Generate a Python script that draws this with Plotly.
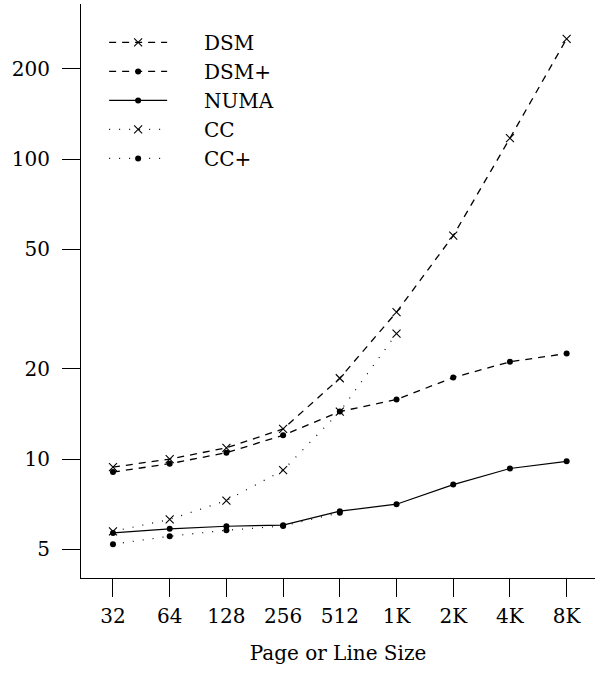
import plotly.graph_objects as go

sizes = ['32', '64', '128', '256', '512', '1K', '2K', '4K', '8K']
dsm = [9.4, 10.0, 10.9, 12.6, 18.6, 30.9, 55.6, 117.5, 252]
dsm_plus = [9.05, 9.65, 10.5, 12.0, 14.4, 15.8, 18.7, 21.1, 22.5]
numa = [5.67, 5.85, 5.97, 6.02, 6.70, 7.07, 8.22, 9.30, 9.83]
cc = [5.74, 6.29, 7.27, 9.18, 14.4, 26.2]
cc_plus = [5.2, 5.53, 5.79, 5.98, 6.62]
y_ticks = [5, 10, 20, 50, 100, 200]

FONT = "DejaVu Serif"
PAD = "\u00a0" * 5
fig = go.Figure()

def add(name, vals, dash, width, symbol, msize, mline):
    xs = list(range(len(vals)))
    fig.add_trace(go.Scatter(
        x=xs, y=vals, name=PAD + name, mode="lines+markers",
        line=dict(color="black", dash=dash, width=width),
        marker=dict(symbol=symbol, size=msize, color="black",
                    line=dict(color="black", width=mline)),
    ))

add("DSM", dsm, "7px,6px", 1.3, "x-thin-open", 8, 1.1)
add("DSM+", dsm_plus, "7px,6px", 1.3, "circle", 6, 0)
add("NUMA", numa, "solid", 1.2, "circle", 6, 0)
add("CC", cc, "1px,9px", 1.2, "x-thin-open", 8, 1.1)
add("CC+", cc_plus, "1px,9px", 1.2, "circle", 6, 0)

fig.update_layout(
    width=597, height=677,
    margin=dict(l=81, r=2, t=4, b=99),
    paper_bgcolor="white", plot_bgcolor="white",
    font=dict(family=FONT, size=20, color="black"),
    legend=dict(x=0.045, y=0.967, xanchor="left", yanchor="top",
                bgcolor="rgba(0,0,0,0)", borderwidth=0,
                font=dict(family=FONT, size=20, color="black"),
                itemwidth=58, tracegroupgap=0),
    showlegend=True,
)
fig.update_xaxes(
    range=[-0.564, 8.5], tickmode="array", tickvals=list(range(len(sizes))),
    ticktext=sizes, showline=True, linecolor="black", linewidth=1,
    ticks="outside", ticklen=18, tickwidth=1, tickcolor="black",
    showgrid=False, zeroline=False, ticklabelstandoff=2,
    title=dict(text="Page or Line Size", font=dict(family=FONT, size=20), standoff=18),
)
fig.update_yaxes(
    type="log", range=[0.6033, 2.5177], tickmode="array", tickvals=y_ticks,
    ticktext=[str(v) for v in y_ticks], showline=True, linecolor="black",
    linewidth=1, ticks="outside", ticklen=18, tickwidth=1, tickcolor="black",
    showgrid=False, zeroline=False, ticklabelstandoff=8,
)

fig.write_html("out.html")
